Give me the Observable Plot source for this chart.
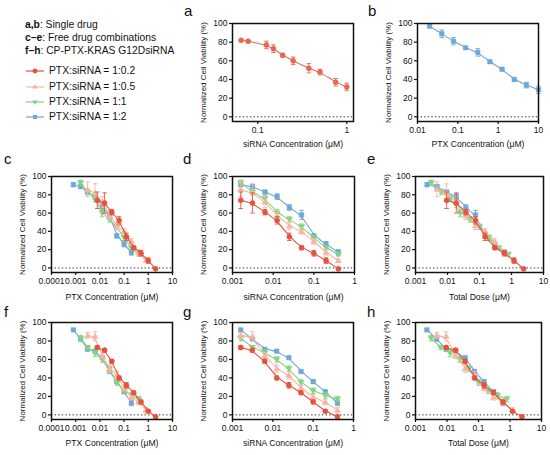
<!DOCTYPE html>
<html><head><meta charset="utf-8">
<script src="https://cdn.jsdelivr.net/npm/d3@7"></script>
<script src="https://cdn.jsdelivr.net/npm/@observablehq/plot@0.6"></script>
<style>
body{margin:0;background:#fff;font-family:"Liberation Sans",Arial,sans-serif;color:#111}
#root{position:relative;width:550px;height:455px;overflow:hidden;background:#fff}
.panel{position:absolute}
.plab{position:absolute;font-size:15px;line-height:15px;width:12px;height:15px}
.hdr{position:absolute;left:25px;font-size:10.3px;line-height:12px;white-space:nowrap}
.leg{position:absolute;left:26px;font-size:10.3px;line-height:12px;white-space:nowrap;display:flex;align-items:center}
.leg svg{margin-right:5px}
</style></head>
<body><div id="root"></div>
<script>
// ---------- data ----------
const ratioLabels = ["PTX:siRNA = 1:0.2", "PTX:siRNA = 1:0.5", "PTX:siRNA = 1:1", "PTX:siRNA = 1:2"];
const ratioColors = ["#e5533d", "#f6b5a4", "#83d47f", "#6fa8d6"];

// a: single drug siRNA
const aSiRNA = [0.065, 0.078, 0.125, 0.15, 0.19, 0.25, 0.375, 0.5, 0.75, 1];
const aViab  = [82, 81, 77, 73, 66, 60, 52, 48, 37, 32];
const aErr   = [1, 1, 4, 4, 2, 4, 5, 3, 4, 4];

// b: single drug PTX
const bPTX  = [0.02, 0.04, 0.078, 0.156, 0.3125, 0.625, 1.25, 2.5, 5, 10];
const bViab = [97, 89, 81, 74, 69, 59, 51, 40, 34, 29];
const bErr  = [1, 4, 4, 1, 4, 1, 1, 2, 3, 4];

// concentrations for the combinations
const siRNAConc = [0.0016, 0.0031, 0.0063, 0.0125, 0.025, 0.05, 0.1, 0.2, 0.4];
const ptx_02 = [0.0078, 0.0156, 0.031, 0.0625, 0.125, 0.25, 0.5, 1, 2];
const ptx_05 = [0.0031, 0.0063, 0.0125, 0.025, 0.05, 0.1, 0.2, 0.4, 0.8];
const ptx_1  = [0.0016, 0.0031, 0.0063, 0.0125, 0.025, 0.05, 0.1, 0.2, 0.4];
const ptx_2  = [0.0008, 0.0016, 0.0031, 0.0063, 0.0125, 0.025, 0.05, 0.1, 0.2];
const dose_02 = [0.0094, 0.0188, 0.0375, 0.075, 0.15, 0.3, 0.6, 1.2, 2.4];
const dose_05 = [0.0047, 0.0094, 0.0188, 0.0375, 0.075, 0.15, 0.3, 0.6, 1.2];
const dose_1  = [0.0031, 0.0063, 0.0125, 0.025, 0.05, 0.1, 0.2, 0.4, 0.8];
const dose_2  = [0.0023, 0.0047, 0.0094, 0.0188, 0.0375, 0.075, 0.15, 0.3, 0.6];

// c-e: free drug combinations
const free_02 = [74, 71, 61, 52, 34, 22, 16, 8, -1];
const free_05 = [86, 82, 72, 57, 46, 40, 29, 17, 8];
const free_1  = [93, 83, 76, 60, 53, 45, 33, 22, 15];
const free_2  = [91, 89, 83, 78, 66, 58, 35, 26, 17];
const freeErr_02 = [9, 11, 3, 4, 4, 2, 3, 3, 1];
const freeErr_05 = [8, 10, 6, 4, 4, 3, 3, 3, 2];
const freeErr_1  = [3, 3, 3, 4, 3, 3, 3, 2, 2];
const freeErr_2  = [2, 2, 2, 3, 3, 5, 2, 3, 3];

// f-h: CP-PTX-KRAS G12DsiRNA
const cp_02 = [73, 70, 58, 40, 32, 24, 14, 4, -2];
const cp_05 = [86, 85, 64, 50, 43, 29, 19, 14, 5];
const cp_1  = [83, 73, 67, 60, 50, 35, 26, 21, 17];
const cp_2  = [92, 82, 71, 69, 62, 47, 36, 25, 13];
const cpErr_02 = [2, 2, 2, 2, 3, 2, 2, 1, 1];
const cpErr_05 = [3, 5, 3, 4, 4, 3, 3, 3, 3];
const cpErr_1  = [3, 2, 4, 3, 3, 3, 3, 3, 3];
const cpErr_2  = [1, 1, 1, 1, 1, 1, 2, 2, 3];

// ticks
const yTicks = [0, 20, 40, 60, 80, 100];
const xTicks_a = [0.1, 1];                 const xTickLabels_a = ["0.1", "1"];
const xTicks_b = [0.01, 0.1, 1, 10];       const xTickLabels_b = ["0.01", "0.1", "1", "10"];
const xTicks_cf = [0.0001, 0.001, 0.01, 0.1, 1, 10]; const xTickLabels_cf = ["0.0001", "0.001", "0.01", "0.1", "1", "10"];
const xTicks_dg = [0.001, 0.01, 0.1, 1];   const xTickLabels_dg = ["0.001", "0.01", "0.1", "1"];
const xTicks_eh = [0.001, 0.01, 0.1, 1, 10]; const xTickLabels_eh = ["0.001", "0.01", "0.1", "1", "10"];

const yLabel = "Normalized Cell Viability (%)";

// ---------- symbols ----------
const hline = {draw(ctx, size) { const w = Math.sqrt(size / Math.PI); ctx.moveTo(-w, 0); ctx.lineTo(w, 0); }};
const triDown = {draw(ctx, size) { const s = Math.sqrt(size / Math.PI) * 1.25; ctx.moveTo(-s, -s * 0.65); ctx.lineTo(s, -s * 0.65); ctx.lineTo(0, s * 0.9); ctx.closePath(); }};
const triUp = {draw(ctx, size) { const s = Math.sqrt(size / Math.PI) * 1.25; ctx.moveTo(-s, s * 0.65); ctx.lineTo(s, s * 0.65); ctx.lineTo(0, -s * 0.9); ctx.closePath(); }};
const ratioSymbols = ["circle", triUp, triDown, "square"];

const root = document.getElementById("root");

function makePanel(p) {
  const marks = [Plot.ruleY([0], {stroke: "#222", strokeDasharray: "1.3,2.3", strokeWidth: 1})];
  for (const s of p.series) {
    const rows = s.x.map((x, i) => ({x, y: s.y[i], e: s.e[i]}));
    marks.push(Plot.line(rows, {x: "x", y: "y", stroke: s.color, strokeWidth: 1.1, curve: "basis"}));
    marks.push(Plot.ruleX(rows, {x: "x", y1: d => d.y - d.e, y2: d => d.y + d.e, stroke: s.color, strokeWidth: 0.9}));
    marks.push(Plot.dot(rows, {x: "x", y: d => d.y + d.e, symbol: hline, r: 2.3, stroke: s.color, fill: "none", strokeWidth: 0.9}));
    marks.push(Plot.dot(rows, {x: "x", y: d => d.y - d.e, symbol: hline, r: 2.3, stroke: s.color, fill: "none", strokeWidth: 0.9}));
    marks.push(Plot.dot(rows, {x: "x", y: "y", symbol: s.symbol, r: 2.5, fill: s.color, stroke: s.color, strokeWidth: 0.6}));
  }
  const tmap = new Map(p.ticks.map((t, i) => [t, p.tickLabels[i]]));
  marks.push(Plot.frame({stroke: "#111", strokeWidth: 1.5}));
  marks.push(Plot.axisX({ticks: p.ticks, tickFormat: d => tmap.get(d), tickSize: 3, tickPadding: 2.5, label: null, fontSize: 8.5, stroke: "#111", strokeWidth: 1.2}));
  marks.push(Plot.axisY({ticks: yTicks, tickSize: 3, tickPadding: 2, label: null, fontSize: 8.5, stroke: "#111", strokeWidth: 1.2}));
  marks.push(Plot.axisY({ticks: [], tickSize: 0, label: yLabel, labelAnchor: "center", labelArrow: "none", labelOffset: 32.5, fontSize: 8, fill: "#111"}));
  marks.push(Plot.text([p.xlabel], {frameAnchor: "bottom", dy: p.xdy, fontSize: 8.6, fill: "#111"}));
  const svg = Plot.plot({
    width: p.width, height: p.height,
    marginLeft: p.mL, marginRight: p.mR, marginTop: p.mT, marginBottom: p.mB,
    x: {type: "log", domain: p.domain},
    y: {domain: [-5, 100]},
    style: {fontFamily: "'Liberation Sans', Arial, sans-serif", background: "transparent", overflow: "visible", color: "#111"},
    marks
  });
  svg.classList.add("panel");
  svg.style.left = p.left + "px";
  svg.style.top = p.top + "px";
  svg.style.overflow = "visible";
  root.appendChild(svg);
  const lab = document.createElement("div");
  lab.className = "plab";
  lab.textContent = p.letter;
  lab.style.left = p.lx + "px";
  lab.style.top = p.ly + "px";
  root.appendChild(lab);
}

function combo(xs, ys, es) {
  // draw order: 1:2, 1:1, 1:0.5, 1:0.2
  return [3, 2, 1, 0].map(k => ({x: xs[k], y: ys[k], e: es[k], color: ratioColors[k], symbol: ratioSymbols[k]}));
}

const freeY = [free_02, free_05, free_1, free_2];
const freeE = [freeErr_02, freeErr_05, freeErr_1, freeErr_2];
const cpY = [cp_02, cp_05, cp_1, cp_2];
const cpE = [cpErr_02, cpErr_05, cpErr_1, cpErr_2];
const ptxX = [ptx_02, ptx_05, ptx_1, ptx_2];
const siX = [siRNAConc, siRNAConc, siRNAConc, siRNAConc];
const doseX = [dose_02, dose_05, dose_1, dose_2];

const row1 = {top: 8, height: 142, mT: 15, mB: 29, xdy: 25, ly: 3};
const row2 = {top: 145, height: 160, mT: 31, mB: 33, xdy: 27, ly: 151};
const row3 = {top: 300, height: 155, mT: 22, mB: 36, xdy: 26, ly: 304};

makePanel({...row1, letter: "a", lx: 184, left: 180, width: 185, mL: 52, mR: 12, domain: [0.052, 1.19], ticks: xTicks_a, tickLabels: xTickLabels_a, xlabel: "siRNA Concentration (μM)",
  series: [{x: aSiRNA, y: aViab, e: aErr, color: "#e8674f", symbol: "circle"}]});
makePanel({...row1, letter: "b", lx: 368, left: 365, width: 185, mL: 52, mR: 12, domain: [0.01, 10], ticks: xTicks_b, tickLabels: xTickLabels_b, xlabel: "PTX Concentration (μM)",
  series: [{x: bPTX, y: bViab, e: bErr, color: "#6fa8d6", symbol: "square"}]});

makePanel({...row2, letter: "c", lx: 4, left: 0, width: 185, mL: 51, mR: 13, domain: [0.0001, 10], ticks: xTicks_cf, tickLabels: xTickLabels_cf, xlabel: "PTX Concentration (μM)", series: combo(ptxX, freeY, freeE)});
makePanel({...row2, letter: "d", lx: 183, left: 180, width: 185, mL: 52, mR: 11, domain: [0.001, 1], ticks: xTicks_dg, tickLabels: xTickLabels_dg, xlabel: "siRNA Concentration (μM)", series: combo(siX, freeY, freeE)});
makePanel({...row2, letter: "e", lx: 367, left: 365, width: 185, mL: 50, mR: 7, domain: [0.001, 10], ticks: xTicks_eh, tickLabels: xTickLabels_eh, xlabel: "Total Dose (μM)", series: combo(doseX, freeY, freeE)});

makePanel({...row3, letter: "f", lx: 4, left: 0, width: 185, mL: 51, mR: 13, domain: [0.0001, 10], ticks: xTicks_cf, tickLabels: xTickLabels_cf, xlabel: "PTX Concentration (μM)", series: combo(ptxX, cpY, cpE)});
makePanel({...row3, letter: "g", lx: 183, left: 180, width: 185, mL: 52, mR: 12, domain: [0.001, 1], ticks: xTicks_dg, tickLabels: xTickLabels_dg, xlabel: "siRNA Concentration (μM)", series: combo(siX, cpY, cpE)});
makePanel({...row3, letter: "h", lx: 367, left: 365, width: 185, mL: 50, mR: 9, domain: [0.001, 10], ticks: xTicks_eh, tickLabels: xTickLabels_eh, xlabel: "Total Dose (μM)", series: combo(doseX, cpY, cpE)});

// ---------- header + legend ----------
const headers = [["a,b", ": Single drug"], ["c–e", ": Free drug combinations"], ["f–h", ": CP-PTX-KRAS G12DsiRNA"]];
const headerY = [19, 32, 45];
headers.forEach(([b, t], i) => {
  const d = document.createElement("div");
  d.className = "hdr";
  d.style.top = headerY[i] + "px";
  d.innerHTML = `<b>${b}</b>${t}`;
  root.appendChild(d);
});
const legendY = [65, 81, 96, 111];
ratioLabels.forEach((lbl, i) => {
  const d = document.createElement("div");
  d.className = "leg";
  d.style.top = legendY[i] + "px";
  const sym = i === 0 ? `<circle cx="9" cy="6" r="2.4" fill="${ratioColors[i]}"/>` :
    i === 1 ? `<path d="M6.2,7.6L11.8,7.6L9,3.3Z" fill="${ratioColors[i]}"/>` :
    i === 2 ? `<path d="M6.2,4.4L11.8,4.4L9,8.7Z" fill="${ratioColors[i]}"/>` :
    `<rect x="7" y="4" width="4" height="4" fill="${ratioColors[i]}"/>`;
  d.innerHTML = `<svg width="18" height="12"><line x1="0" x2="18" y1="6" y2="6" stroke="${ratioColors[i]}" stroke-width="1.2"/>${sym}</svg><span>${lbl}</span>`;
  root.appendChild(d);
});
</script>
</body></html>
